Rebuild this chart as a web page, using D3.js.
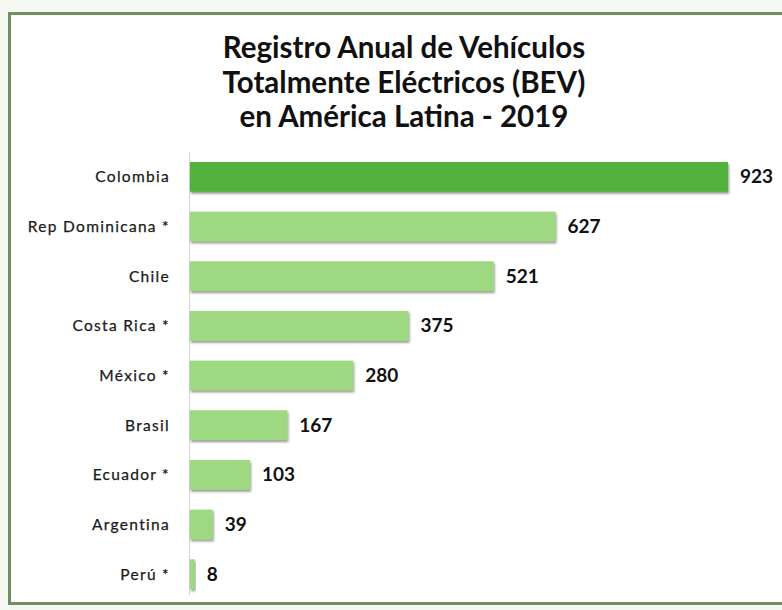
<!DOCTYPE html>
<html>
<head>
<meta charset="utf-8">
<script src="https://cdn.jsdelivr.net/npm/d3@7"></script>
<style>
  html, body { margin: 0; padding: 0; background: #f5f9f2; }
  svg { display: block; }
</style>
</head>
<body>
<div id="chart"></div>
<script>
const countries = ["Colombia", "Rep Dominicana *", "Chile", "Costa Rica *", "México *", "Brasil", "Ecuador *", "Argentina", "Perú *"];
const values = [923, 627, 521, 375, 280, 167, 103, 39, 8];
const titleLines = ["Registro Anual de Vehículos", "Totalmente Eléctricos (BEV)", "en América Latina - 2019"];

const width = 782;
const height = 610;
const margin = { top: 152, right: 54, bottom: 11, left: 190 };

const data = countries.map((name, i) => ({ name, value: values[i] }));

const svg = d3.select("#chart")
  .append("svg")
  .attr("width", width)
  .attr("height", height);

const defs = svg.append("defs");
const f = defs.append("filter").attr("id", "shadow")
  .attr("x", "-5%").attr("y", "-20%").attr("width", "115%").attr("height", "160%");
f.append("feDropShadow")
  .attr("dx", 1).attr("dy", 2).attr("stdDeviation", 1.2)
  .attr("flood-color", "#3a4a30").attr("flood-opacity", 0.55);

// frame
svg.append("rect")
  .attr("x", 9.5).attr("y", 13.5)
  .attr("width", width + 10).attr("height", 590)
  .attr("fill", "#ffffff")
  .attr("stroke", "#6f8f62")
  .attr("stroke-width", 3);

// title
svg.append("g")
  .attr("font-family", "Lato, 'Open Sans', sans-serif")
  .attr("font-weight", "bold")
  .attr("font-size", 29.5)
  .attr("fill", "#111")
  .attr("text-anchor", "middle")
  .selectAll("text")
  .data(titleLines)
  .join("text")
  .attr("x", 404)
  .attr("y", (d, i) => 58 + i * 34.5)
  .text(d => d);

const x = d3.scaleLinear()
  .domain([0, 923])
  .range([margin.left, 728]);

const y = d3.scaleBand()
  .domain(countries)
  .range([margin.top, height - margin.bottom])
  .paddingInner(0.4)
  .paddingOuter(0.2);

// axis line
svg.append("line")
  .attr("x1", margin.left - 0.5).attr("x2", margin.left - 0.5)
  .attr("y1", margin.top).attr("y2", height - margin.bottom - 4)
  .attr("stroke", "#d4d4d4")
  .attr("stroke-width", 1);

svg.append("g")
  .selectAll("rect")
  .data(data)
  .join("rect")
  .attr("x", x(0))
  .attr("y", d => y(d.name))
  .attr("width", d => x(d.value) - x(0))
  .attr("height", y.bandwidth())
  .attr("fill", (d, i) => i === 0 ? "#52b13d" : "#9ed982")
  .attr("filter", "url(#shadow)");

// category labels
svg.append("g")
  .attr("font-family", "Lato, 'Open Sans', sans-serif")
  .attr("font-size", 15.5)
  .attr("letter-spacing", 1.3)
  .attr("stroke", "#1a1a1a")
  .attr("stroke-width", 0.25)
  .attr("fill", "#1a1a1a")
  .attr("text-anchor", "end")
  .selectAll("text")
  .data(data)
  .join("text")
  .attr("x", 170)
  .attr("y", d => y(d.name) + y.bandwidth() / 2)
  .attr("dy", "0.35em")
  .text(d => d.name);

// value labels
svg.append("g")
  .attr("font-family", "Lato, 'Open Sans', sans-serif")
  .attr("font-size", 19)
  .attr("font-weight", "bold")
  .attr("fill", "#111")
  .selectAll("text")
  .data(data)
  .join("text")
  .attr("x", d => x(d.value) + 12)
  .attr("y", d => y(d.name) + y.bandwidth() / 2)
  .attr("dy", "0.35em")
  .text(d => d.value);
</script>
</body>
</html>
